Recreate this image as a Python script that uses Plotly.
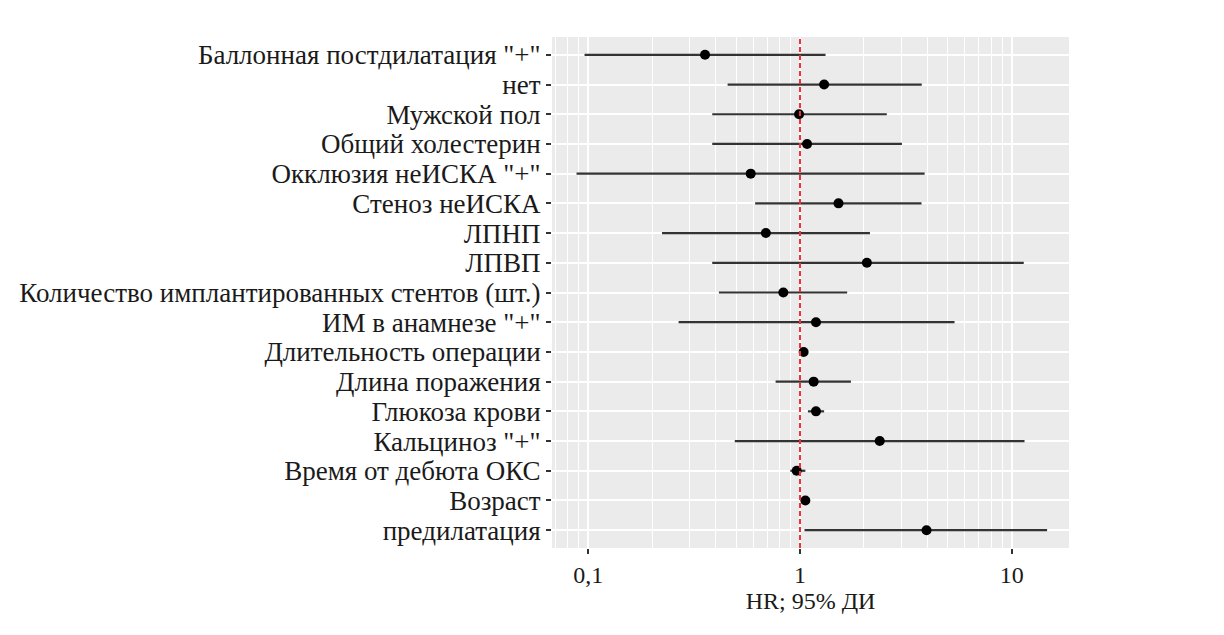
import plotly.graph_objects as go

labels = [
    'Баллонная постдилатация "+"',
    'нет',
    'Мужской пол',
    'Общий холестерин',
    'Окклюзия неИСКА "+"',
    'Стеноз неИСКА',
    'ЛПНП',
    'ЛПВП',
    'Количество имплантированных стентов (шт.)',
    'ИМ в анамнезе "+"',
    'Длительность операции',
    'Длина поражения',
    'Глюкоза крови',
    'Кальциноз "+"',
    'Время от дебюта ОКС',
    'Возраст',
    'предилатация',
]
hr = [0.356, 1.30, 0.99, 1.08, 0.585, 1.52, 0.69, 2.07, 0.834, 1.19, 1.04, 1.16, 1.19, 2.38, 0.965, 1.06, 3.96]
ci_low = [0.096, 0.455, 0.385, 0.385, 0.088, 0.614, 0.223, 0.385, 0.414, 0.267, 1.01, 0.767, 1.09, 0.492, 0.90, 1.03, 1.05]
ci_high = [1.32, 3.76, 2.57, 3.03, 3.88, 3.75, 2.14, 11.4, 1.67, 5.37, 1.07, 1.74, 1.30, 11.5, 1.06, 1.09, 14.7]

x_tickvals = [0.1, 1, 10]
x_ticktext = ["0,1", "1", "10"]
minor_vals = [m * 10 ** e for e in (-2, -1, 0, 1) for m in range(2, 10)]

FONT = "Liberation Serif"
TXT = "#1a1a1a"

fig = go.Figure()
fig.add_trace(go.Scatter(
    x=hr, y=labels, mode="markers",
    marker=dict(color="black", size=10),
    error_x=dict(type="data", symmetric=False,
                 array=[h - m for h, m in zip(ci_high, hr)],
                 arrayminus=[m - l for m, l in zip(hr, ci_low)],
                 color="#333333", thickness=2.2, width=0),
    showlegend=False,
))

fig.add_shape(type="line", xref="x", yref="paper", x0=1, x1=1, y0=0, y1=1,
              line=dict(color="#F0303A", width=2, dash="5px,3px"), layer="above")

fig.update_layout(
    width=1224, height=635,
    margin=dict(l=544, r=163, t=29, b=95),
    paper_bgcolor="white", plot_bgcolor="#EBEBEB",
    font=dict(family=FONT, color=TXT, size=24),
)
fig.update_xaxes(
    type="log", range=[-1.1715, 1.2707],
    tickmode="array", tickvals=x_tickvals, ticktext=x_ticktext,
    showgrid=True, gridcolor="white", gridwidth=2,
    minor=dict(tickmode="array", tickvals=minor_vals, showgrid=True,
               gridcolor="white", gridwidth=1, ticks=""),
    ticks="outside", ticklen=5, tickcolor="#333333", tickwidth=1.5,
    tickfont=dict(family=FONT, size=24, color=TXT),
    title=dict(text="HR; 95% ДИ", font=dict(family=FONT, size=24, color=TXT), standoff=2),
    zeroline=False, showline=False,
)
fig.update_yaxes(
    type="category", categoryorder="array", categoryarray=labels,
    tickmode="array", tickvals=labels, ticktext=labels,
    range=[16.6, -0.6],
    showgrid=True, gridcolor="white", gridwidth=2,
    ticks="outside", ticklen=5, tickcolor="#333333", tickwidth=1.5,
    tickfont=dict(family=FONT, size=27, color=TXT),
    zeroline=False, showline=False,
)

fig.write_html("out.html")
